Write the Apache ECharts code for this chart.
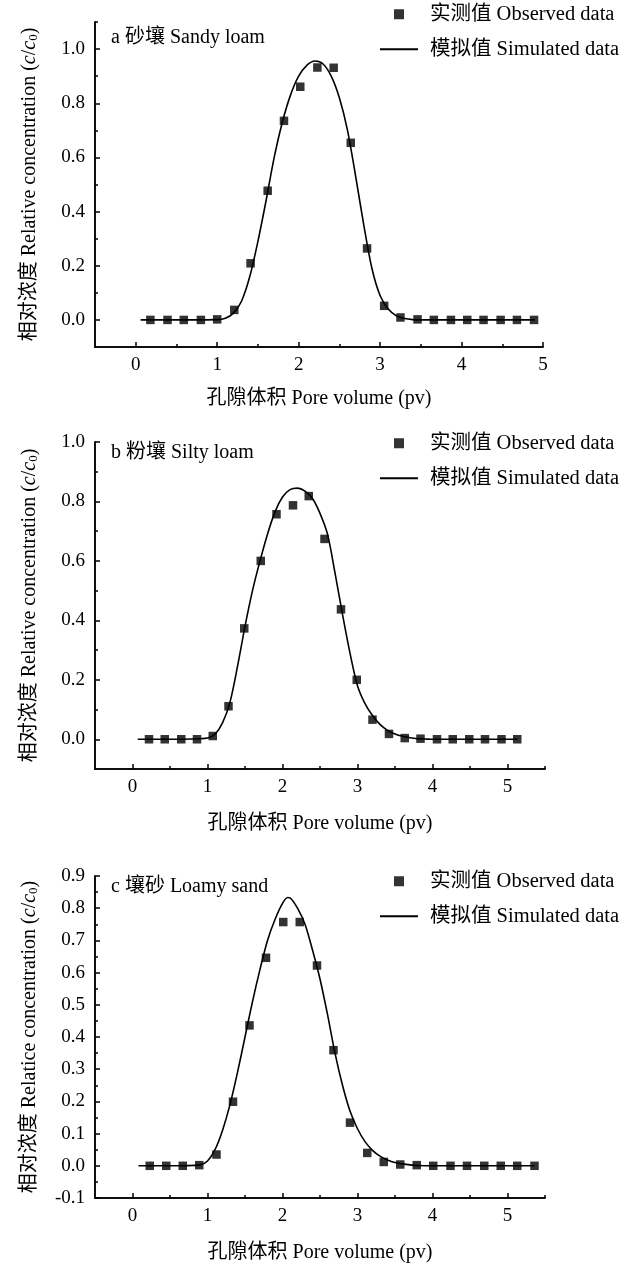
<!DOCTYPE html>
<html><head><meta charset="utf-8">
<script src="https://cdn.jsdelivr.net/npm/echarts@6/dist/echarts.min.js"></script>
<style>html,body{margin:0;padding:0;background:#fff}#c{width:634px;height:1264px}</style>
</head><body><div id="c"></div><script>
// ---------- data ----------
const panelTitles = ['a 砂壤 Sandy loam', 'b 粉壤 Silty loam', 'c 壤砂 Loamy sand'];
const obsName = '实测值 Observed data';
const simName = '模拟值 Simulated data';
const xName = '孔隙体积 Pore volume (pv)';
const yNameWords = ['Relative', 'Relative', 'Relatice'];

// Panel a
const obsXA = [0.18,0.39,0.59,0.80,1.00,1.21,1.41,1.62,1.82,2.02,2.23,2.43,2.64,2.84,3.05,3.25,3.46,3.66,3.87,4.07,4.27,4.48,4.68,4.89];
const obsYA = [0,0,0,0,0.002,0.037,0.209,0.477,0.735,0.861,0.932,0.931,0.654,0.264,0.052,0.009,0.002,0,0,0,0,0,0,0];
const simXA = [0.06,0.5,1.0,1.1,1.2,1.3,1.4,1.5,1.6,1.7,1.8,1.9,2.0,2.1,2.2,2.3,2.4,2.5,2.6,2.7,2.8,2.9,3.0,3.1,3.2,3.3,3.4,3.5,4.0,4.9];
const simYA = [0,0,0.001,0.006,0.025,0.07,0.16,0.29,0.44,0.60,0.73,0.83,0.90,0.94,0.956,0.945,0.90,0.82,0.70,0.53,0.35,0.19,0.09,0.04,0.015,0.005,0.001,0,0,0];

// Panel b
const obsXB = [0.22,0.43,0.65,0.86,1.07,1.28,1.49,1.71,1.92,2.14,2.35,2.56,2.78,2.99,3.20,3.42,3.63,3.84,4.06,4.27,4.49,4.70,4.92,5.13];
const obsYB = [0,0,0,0,0.011,0.111,0.373,0.600,0.757,0.787,0.818,0.674,0.437,0.200,0.066,0.018,0.004,0.002,0,0,0,0,0,0];
const simXB = [0.07,0.5,0.9,1.0,1.1,1.2,1.3,1.4,1.5,1.6,1.7,1.8,1.9,2.0,2.1,2.2,2.3,2.4,2.5,2.6,2.7,2.8,2.9,3.0,3.1,3.2,3.3,3.4,3.5,3.6,3.7,3.8,3.9,4.0,5.13];
const simYB = [0,0,0.002,0.004,0.017,0.055,0.125,0.245,0.38,0.50,0.60,0.69,0.765,0.815,0.84,0.845,0.835,0.81,0.76,0.69,0.56,0.42,0.29,0.18,0.12,0.08,0.05,0.03,0.018,0.01,0.005,0.002,0.001,0,0];

// Panel c
const obsXC = [0.23,0.45,0.67,0.89,1.12,1.34,1.56,1.78,2.01,2.23,2.46,2.68,2.90,3.13,3.35,3.57,3.79,4.01,4.24,4.46,4.69,4.91,5.13,5.36];
const obsYC = [0,0,0,0.002,0.035,0.199,0.436,0.646,0.757,0.757,0.622,0.359,0.134,0.040,0.012,0.004,0.002,0,0,0,0,0,0,0];
const simXC = [0.08,0.5,0.9,1.0,1.1,1.2,1.3,1.4,1.5,1.6,1.7,1.8,1.9,2.0,2.07,2.1,2.2,2.3,2.4,2.5,2.6,2.7,2.8,2.9,3.0,3.1,3.2,3.3,3.4,3.5,3.6,3.7,3.8,4.0,5.36];
const simYC = [0,0,0.003,0.015,0.05,0.11,0.19,0.29,0.40,0.51,0.61,0.70,0.765,0.815,0.833,0.832,0.80,0.75,0.67,0.58,0.47,0.35,0.25,0.17,0.115,0.075,0.048,0.03,0.018,0.01,0.006,0.003,0.001,0,0];

// Axis ranges and ticks
const xRangeA = [-0.5, 5];   const yRangeA = [-0.1, 1.1];
const xRangeB = [-0.5, 5.5]; const yRangeB = [-0.1, 1.0];
const xRangeC = [-0.5, 5.5]; const yRangeC = [-0.1, 0.9];
const xMajorA = [0,1,2,3,4,5];  const xMinorA = [0.5,1.5,2.5,3.5,4.5];
const xMajorB = [0,1,2,3,4,5];  const xMinorB = [0.5,1.5,2.5,3.5,4.5,5.5];
const xMajorC = [0,1,2,3,4,5];  const xMinorC = [0.5,1.5,2.5,3.5,4.5,5.5];
const yMajorA = [0,0.2,0.4,0.6,0.8,1.0]; const yMinorA = [0.1,0.3,0.5,0.7,0.9,1.1];
const yMajorB = [0,0.2,0.4,0.6,0.8,1.0]; const yMinorB = [0.1,0.3,0.5,0.7,0.9];
const yMajorC = [-0.1,0,0.1,0.2,0.3,0.4,0.5,0.6,0.7,0.8,0.9];
const yMinorC = [-0.05,0.05,0.15,0.25,0.35,0.45,0.55,0.65,0.75,0.85];

// ---------- layout ----------
const FF = "'Liberation Serif','Times New Roman','Noto Sans CJK SC',serif";
const grids = [
  {left:95, top:22, width:448, height:325},
  {left:95, top:442, width:450, height:327},
  {left:95, top:876, width:450, height:323}
];
const panels = [
  {obsX:obsXA, obsY:obsYA, simX:simXA, simY:simYA, xr:xRangeA, yr:yRangeA, xM:xMajorA, xm:xMinorA, yM:yMajorA, ym:yMinorA},
  {obsX:obsXB, obsY:obsYB, simX:simXB, simY:simYB, xr:xRangeB, yr:yRangeB, xM:xMajorB, xm:xMinorB, yM:yMajorB, ym:yMinorB},
  {obsX:obsXC, obsY:obsYC, simX:simXC, simY:simYC, xr:xRangeC, yr:yRangeC, xM:xMajorC, xm:xMinorC, yM:yMajorC, ym:yMinorC}
];
const axisLine = {show:true, onZero:false, lineStyle:{color:'#000', width:1.5}};
const xAxis = [], yAxis = [], series = [], title = [], legend = [];
const legendTops = [4, 433, 871];
const titleTops = [28, 443, 877];
const xNameGaps = [42, 45, 45];

panels.forEach((p, g) => {
  xAxis.push({
    gridIndex:g, type:'value', position:'bottom', min:p.xr[0], max:p.xr[1],
    axisLine, splitLine:{show:false},
    axisTick:{show:true, inside:true, length:5, customValues:p.xM, lineStyle:{color:'#000', width:1.5}},
    axisLabel:{customValues:p.xM, formatter:v=>String(v), fontSize:19, fontFamily:FF, color:'#000', margin:9},
    name:xName, nameLocation:'middle', nameGap:xNameGaps[g],
    nameTextStyle:{fontSize:20, fontFamily:FF, color:'#000'}
  });
  xAxis.push({
    gridIndex:g, type:'value', position:'bottom', min:p.xr[0], max:p.xr[1],
    axisLine, splitLine:{show:false},
    axisTick:{show:true, inside:true, length:3, customValues:p.xm, lineStyle:{color:'#000', width:1.5}},
    axisLabel:{show:false}
  });
  yAxis.push({
    gridIndex:g, type:'value', position:'left', min:p.yr[0], max:p.yr[1],
    axisLine, splitLine:{show:false},
    axisTick:{show:true, inside:true, length:5, customValues:p.yM, lineStyle:{color:'#000', width:1.5}},
    axisLabel:{customValues:p.yM, formatter:v=>v.toFixed(1), fontSize:19, fontFamily:FF, color:'#000', margin:10},
    name:'{n|相对浓度 ' + yNameWords[g] + ' concentration (}{i|c}{n|/}{i|c}{s|0}{n|)}',
    nameLocation:'middle', nameRotate:90, nameGap:55,
    nameTextStyle:{fontSize:20, fontFamily:FF, color:'#000', rich:{
      n:{fontSize:20, fontFamily:FF, color:'#000'},
      i:{fontSize:20, fontFamily:FF, color:'#000', fontStyle:'italic'},
      s:{fontSize:13, fontFamily:FF, color:'#000', verticalAlign:'bottom'}
    }}
  });
  yAxis.push({
    gridIndex:g, type:'value', position:'left', min:p.yr[0], max:p.yr[1],
    axisLine, splitLine:{show:false},
    axisTick:{show:true, inside:true, length:3, customValues:p.ym, lineStyle:{color:'#000', width:1.5}},
    axisLabel:{show:false}
  });
  series.push({
    type:'line', name:simName, xAxisIndex:2*g, yAxisIndex:2*g,
    data:p.simX.map((x,i)=>[x, p.simY[i]]),
    symbol:'none', smooth:0.3, lineStyle:{color:'#000', width:1.6}, itemStyle:{color:'#000'}, z:2
  });
  series.push({
    type:'scatter', name:obsName, xAxisIndex:2*g, yAxisIndex:2*g,
    data:p.obsX.map((x,i)=>[x, p.obsY[i]]),
    symbol:'rect', symbolSize:8.5, itemStyle:{color:'#000'}, z:3
  });
  title.push({
    text:panelTitles[g], left:111, top:titleTops[g], padding:0,
    textStyle:{fontSize:20, fontWeight:'normal', fontFamily:FF, color:'#000'}
  });
  legend.push({
    orient:'vertical', left:379, top:legendTops[g], padding:0,
    itemWidth:38, itemHeight:10, itemGap:14.5, selectedMode:false, symbolKeepAspect:true,
    textStyle:{fontSize:20.5, fontFamily:FF, color:'#000', padding:[0,0,0,7]},
    data:[
      {name:obsName, icon:'path://M0,0h1v1h-1z'},
      {name:simName, itemStyle:{color:'rgba(0,0,0,0)', borderWidth:0, opacity:0}}
    ]
  });
});

const chart = echarts.init(document.getElementById('c'), null, {renderer:'canvas'});
chart.setOption({
  backgroundColor:'#fff', animation:false,
  grid:grids, xAxis, yAxis, series, title, legend
});
</script></body></html>
